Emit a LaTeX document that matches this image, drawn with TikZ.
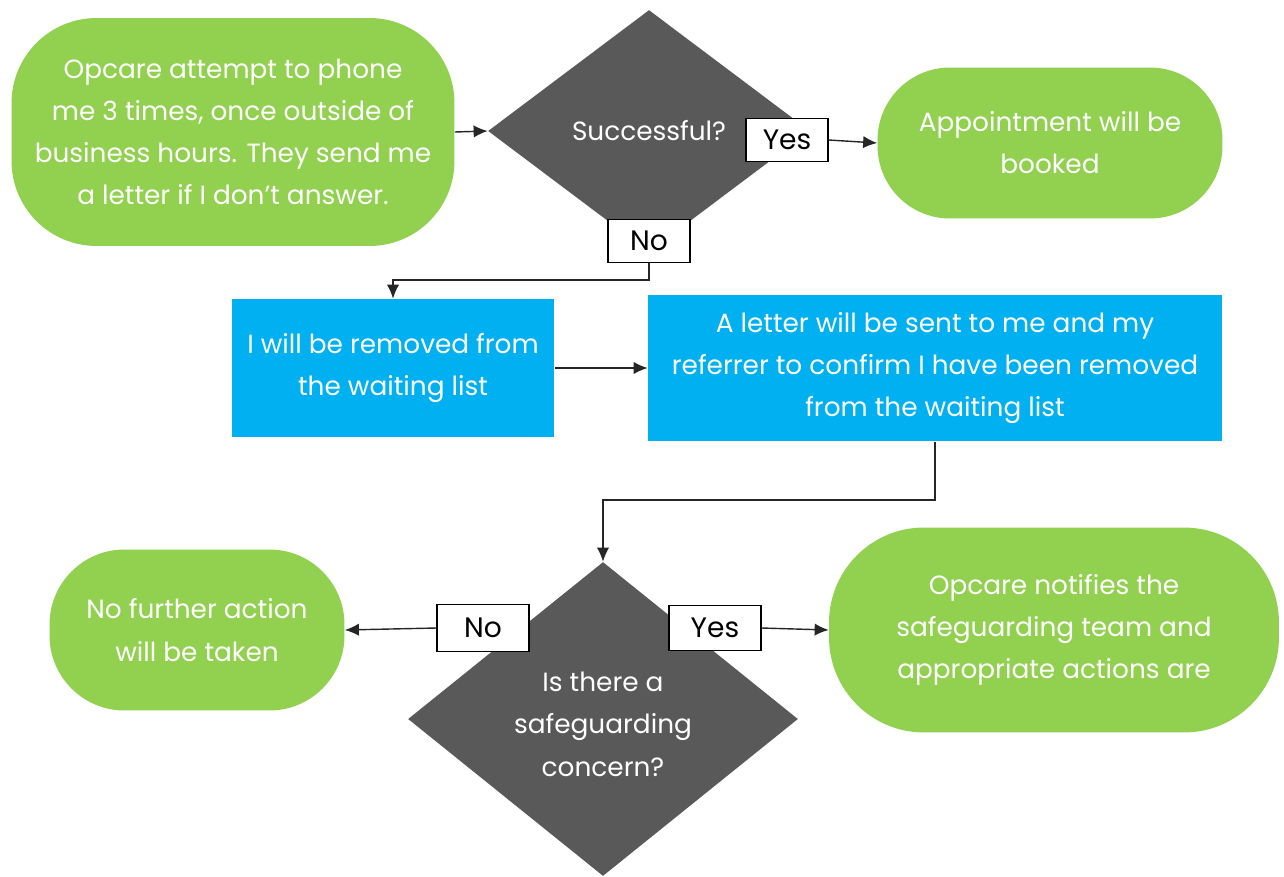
\documentclass[tikz,border=0pt]{standalone}
\usepackage{fontspec}
\setmainfont{Poppins}
\usetikzlibrary{shapes.geometric,arrows.meta}

\definecolor{okgreen}{HTML}{92D050}
\definecolor{listblue}{HTML}{00B0F0}
\definecolor{askgrey}{HTML}{595959}

\tikzset{
  pill/.style={rectangle, rounded corners=#1, fill=okgreen, text=white,
    align=center, inner sep=0pt, font=\fontsize{15}{24}\selectfont},
  pill/.default=1.5cm,
  listbox/.style={rectangle, fill=listblue, text=white, align=center,
    inner sep=0pt, font=\fontsize{15}{24}\selectfont},
  askbox/.style={diamond, fill=askgrey, text=white, align=center,
    inner sep=0pt, font=\fontsize{15}{24}\selectfont},
  answer/.style={rectangle, draw=black, line width=0.7pt, fill=white,
    inner sep=0pt, font=\fontsize{16}{18}\selectfont},
  link/.style={draw=black!85, line width=0.8pt},
  arrow/.style={link, -{Latex[length=8pt,width=7pt]}}
}

\begin{document}
\begin{tikzpicture}[x=0.02cm, y=-0.02cm]
    \useasboundingbox (0,0) rectangle (1284,876);

    % First call attempts
    \node[pill=1.7cm, minimum width=8.86cm, minimum height=4.56cm] (start) at (233,132)
        {Opcare attempt to phone\\me 3 times, once outside of\\business hours. They send me\\a letter if I don’t answer.};

    % Question 1
    \node[askbox, minimum width=6.44cm, minimum height=4.84cm] (succ) at (649,131)
        {\raisebox{-1ex}{Successful?}};
    \node[answer, minimum width=1.64cm, minimum height=0.86cm] (yes1) at (787,140) {Yes};
    \node[answer, minimum width=1.64cm, minimum height=0.86cm] (no1) at (649,241) {No};

    % Booked
    \node[pill=1.45cm, minimum width=6.9cm, minimum height=3.02cm] (booked) at (1050,143)
        {Appointment will be\\booked};

    % Removal
    \node[listbox, minimum width=6.46cm, minimum height=2.76cm] (removed) at (393,368)
        {I will be removed from\\the waiting list};
    \node[listbox, minimum width=11.48cm, minimum height=2.94cm] (letter) at (935,368)
        {A letter will be sent to me and my\\referrer to confirm I have been removed\\from the waiting list};

    % Question 2
    \node[askbox, minimum width=7.8cm, minimum height=6.28cm] (safe) at (603,719)
        {\\[-0.24cm]Is there a\\safeguarding\\concern?};
    \node[answer, minimum width=1.84cm, minimum height=0.94cm] (no2) at (483,628) {No};
    \node[answer, minimum width=1.84cm, minimum height=0.90cm] (yes2) at (715,628) {Yes};

    % Outcomes
    \node[pill=1.5cm, minimum width=5.9cm, minimum height=3.22cm] (nothing) at (197,630)
        {No further action\\will be taken};
    \node[pill=1.9cm, minimum width=9.0cm, minimum height=4.1cm] (notify) at (1054,630)
        {Opcare notifies the\\safeguarding team and\\appropriate actions are};

    % Connectors
    \coordinate (bendA) at (649,280);
    \coordinate (bendB) at (935,500);
    \draw[arrow] (start.east) -- (succ.west);
    \draw[arrow] (yes1.east) -- (booked.west);
    \draw[arrow] (no1.south) -- (bendA) -| (removed.north);
    \draw[arrow] (removed.east) -- (letter.west);
    \draw[arrow] (letter.south) -- (bendB) -| (safe.north);
    \draw[arrow] (no2.west) -- (nothing.east);
    \draw[arrow] (yes2.east) -- (notify.west);
\end{tikzpicture}
\end{document}
